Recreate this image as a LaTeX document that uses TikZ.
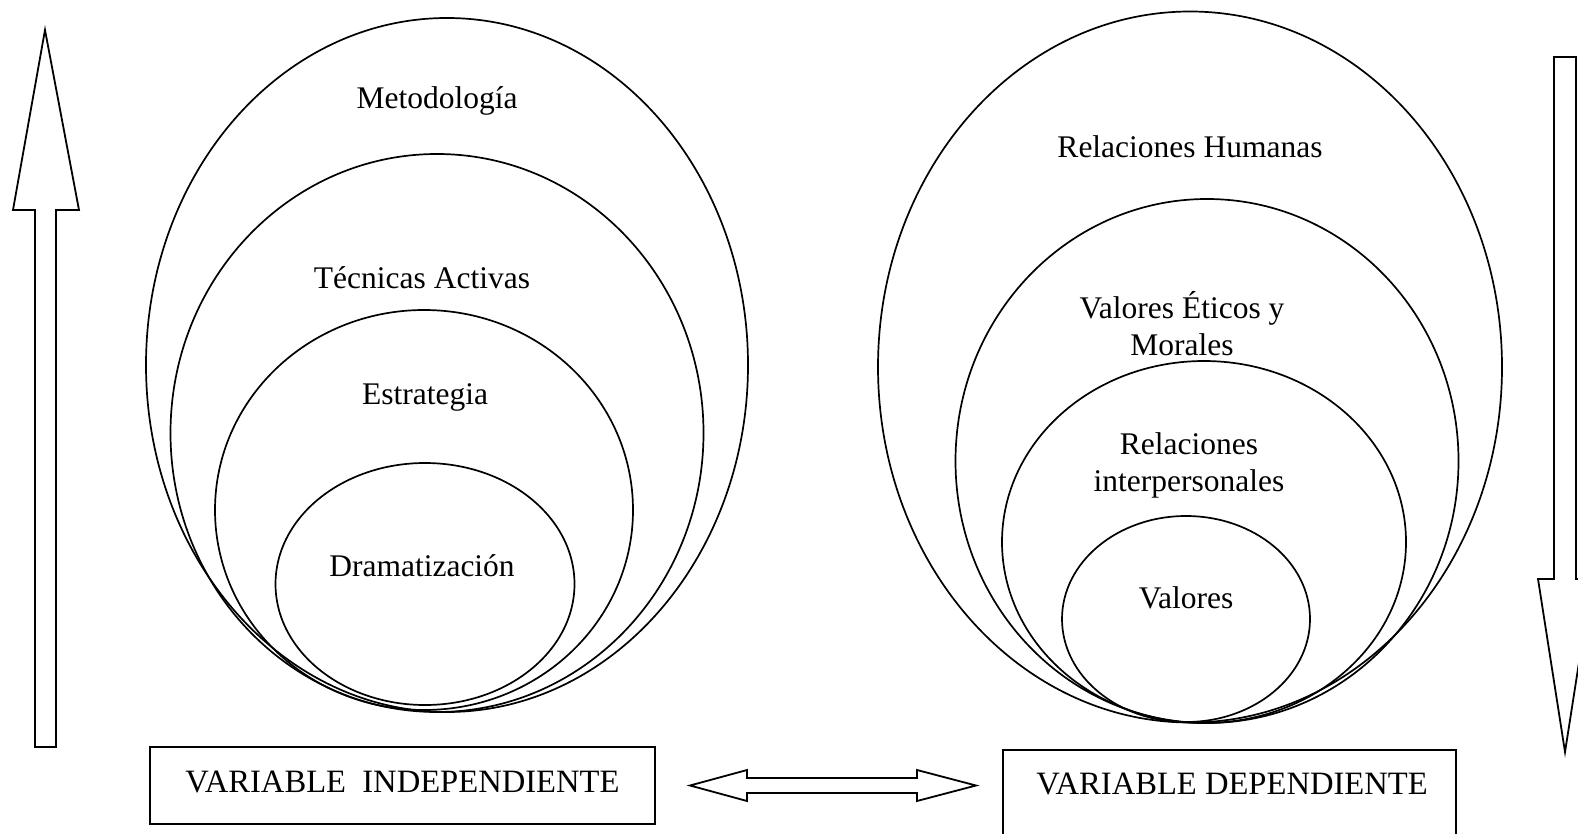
\documentclass[tikz,border=0pt]{standalone}
\usepackage{fontspec}
\setmainfont{Liberation Serif}
\usetikzlibrary{shapes.geometric}
\begin{document}
\begin{tikzpicture}[x=1pt,y=-1pt,
  oval/.style={draw, line width=1.7pt, ellipse, inner sep=0pt, outer sep=0pt},
  lbl/.style={font=\fontsize{31.5}{37}\selectfont, align=center, inner sep=0pt},
  boxlbl/.style={font=\fontsize{32.6}{37}\selectfont, inner sep=0pt},
  blockarrow/.style={draw, line width=1.8pt, line join=miter},
  varbox/.style={draw, line width=1.8pt, inner sep=0pt}]
\useasboundingbox (0,0) rectangle (1578,834);
\clip (0,0) rectangle (1578,834);
\fill[white] (0,0) rectangle (1578,834);
% left group
\node[oval, minimum width=602pt, minimum height=694pt] (e1) at (447,365) {};
\node[oval, minimum width=533pt, minimum height=558pt] (e2) at (437,433) {};
\node[oval, minimum width=418pt, minimum height=400pt] (e3) at (424,510) {};
\node[oval, minimum width=299pt, minimum height=242pt] (e4) at (425,584) {};
\node[lbl] (t1) at (437,101) {Metodología};
\node[lbl] (t2) at (422,278) {Técnicas Activas};
\node[lbl] (t3) at (425,397) {Estrategia};
\node[lbl] (t4) at (422,566) {Dramatización};
% right group
\node[oval, minimum width=624pt, minimum height=711pt] (f1) at (1190,367) {};
\node[oval, minimum width=503pt, minimum height=524pt] (f2) at (1207,461) {};
\node[oval, minimum width=404pt, minimum height=362pt] (f3) at (1204,542) {};
\node[oval, minimum width=248pt, minimum height=206pt] (f4) at (1186,619) {};
\node[lbl] (u1) at (1190,147) {Relaciones Humanas};
\node[lbl] (u2) at (1182,324) {Valores Éticos y\\Morales};
\node[lbl] (u3) at (1189,465) {Relaciones\\interpersonales};
\node[lbl] (u4) at (1186,598) {Valores};
% boxes
\node[varbox, minimum width=505pt, minimum height=77pt] (vi) at (402.5,785.5) {};
\node[boxlbl] (vit) at (402.5,782) {VARIABLE\ \ INDEPENDIENTE};
\node[varbox, minimum width=453pt, minimum height=120pt] (vd) at (1229.5,810) {};
\node[boxlbl] (vdt) at (1232,784) {VARIABLE DEPENDIENTE};
% block arrows
\draw[blockarrow] (45,30) -- (79,210) -- (56,210) -- (56,747) -- (35,747) -- (35,210) -- (13,210) -- cycle;
\draw[blockarrow] (1554,57) -- (1576,57) -- (1576,579) -- (1592,579) -- (1565,752) -- (1538,579) -- (1554,579) -- cycle;
\draw[blockarrow] (690,785.5) -- (747,770) -- (747,778) -- (917,778) -- (917,770) -- (976,785.5) -- (917,801) -- (917,793) -- (747,793) -- (747,801) -- cycle;
\end{tikzpicture}
\end{document}
